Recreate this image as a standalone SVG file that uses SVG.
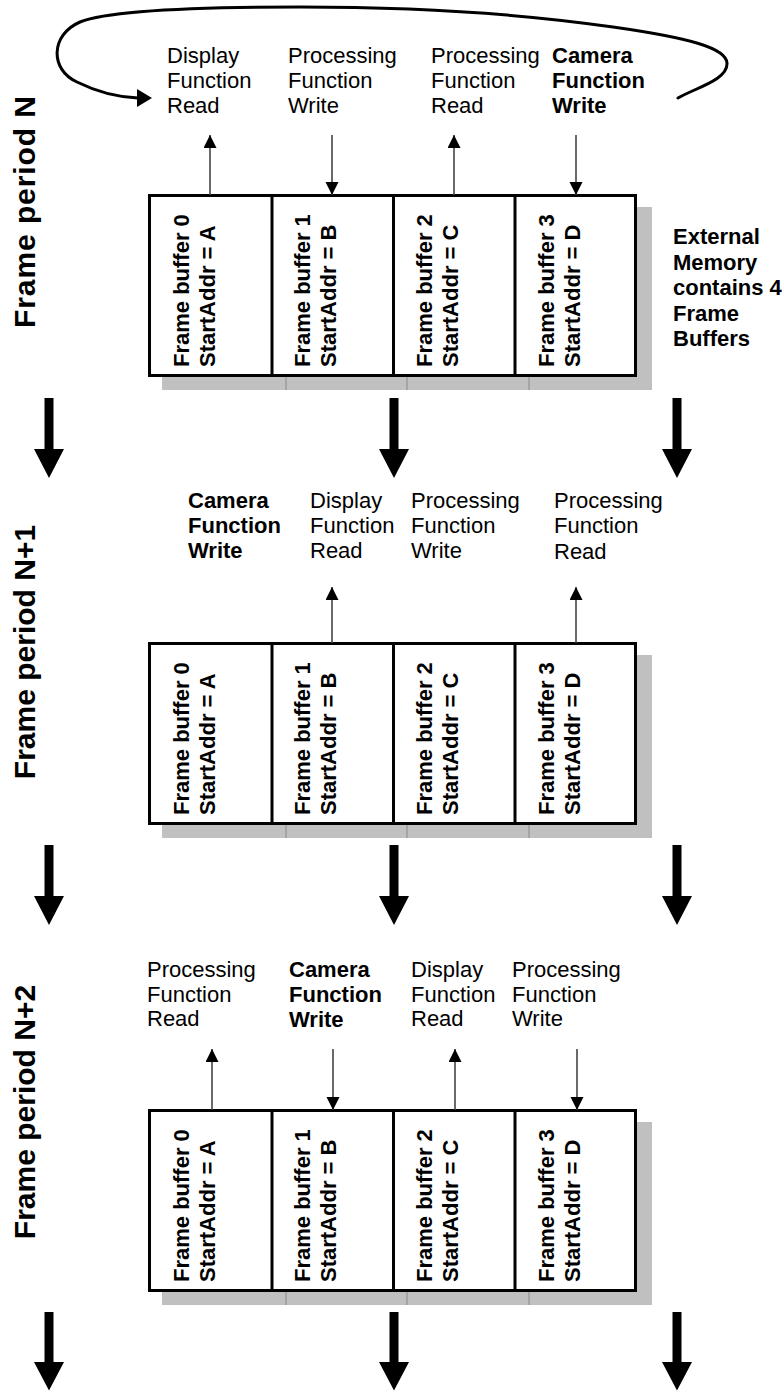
<svg xmlns="http://www.w3.org/2000/svg" width="782" height="1391" viewBox="0 0 782 1391">
<style>
.lbl{font-family:"Liberation Sans",Arial,sans-serif;font-size:22px;fill:#000}
.b{font-weight:bold}
.cell{font-family:"Liberation Sans",Arial,sans-serif;font-size:22px;font-weight:bold;fill:#000}
.period{font-family:"Liberation Sans",Arial,sans-serif;font-size:30px;font-weight:bold;fill:#000}
.box{fill:#fff;stroke:#000;stroke-width:3}
.div{stroke:#000;stroke-width:3}
.shadow{fill:#c0c0c0}
.sdiv{stroke:#a4a4a4;stroke-width:2}
.thin{stroke:#444;stroke-width:1.6;fill:none}
.big{fill:#000}
.curve{fill:none;stroke:#000;stroke-width:3;stroke-linecap:round}
</style>
<defs>
<marker id="ah" markerUnits="userSpaceOnUse" markerWidth="14" markerHeight="14" refX="13" refY="6.5" orient="auto">
<path d="M0,0 L13,6.5 L0,13 z" fill="#000"/>
</marker>
<g id="panel">
<rect class="shadow" x="162" y="13" width="490" height="183"/>
<line class="sdiv" x1="286" y1="183" x2="286" y2="196"/>
<line class="sdiv" x1="407" y1="183" x2="407" y2="196"/>
<line class="sdiv" x1="529" y1="183" x2="529" y2="196"/>
<rect class="box" x="149.5" y="1.5" width="486" height="180"/>
<line class="div" x1="272" y1="1.5" x2="272" y2="181.5"/>
<line class="div" x1="393.5" y1="1.5" x2="393.5" y2="181.5"/>
<line class="div" x1="515" y1="1.5" x2="515" y2="181.5"/>
<text class="cell" transform="translate(189,173) rotate(-90)">Frame buffer 0</text>
<text class="cell" transform="translate(215,173) rotate(-90)">StartAddr = A</text>
<text class="cell" transform="translate(310,173) rotate(-90)">Frame buffer 1</text>
<text class="cell" transform="translate(336,173) rotate(-90)">StartAddr = B</text>
<text class="cell" transform="translate(432,173) rotate(-90)">Frame buffer 2</text>
<text class="cell" transform="translate(458,173) rotate(-90)">StartAddr = C</text>
<text class="cell" transform="translate(554,173) rotate(-90)">Frame buffer 3</text>
<text class="cell" transform="translate(580,173) rotate(-90)">StartAddr = D</text>
</g>
<path id="bigArrow" d="M-4.5,0 H4.5 V51 H15 L0,80 L-15,51 H-4.5 Z"/>
</defs>

<g id="period-labels">
<text class="period" text-anchor="middle" textLength="232" lengthAdjust="spacing" transform="translate(35,212) rotate(-90)">Frame period N</text>
<text class="period" text-anchor="middle" transform="translate(35,652) rotate(-90)">Frame period N+1</text>
<text class="period" text-anchor="middle" transform="translate(35,1112) rotate(-90)">Frame period N+2</text>
</g>

<g id="panel-N"><use href="#panel" transform="translate(0,194)"/></g>
<g id="panel-N1"><use href="#panel" transform="translate(0,642)"/></g>
<g id="panel-N2"><use href="#panel" transform="translate(0,1109)"/></g>

<g id="external-memory">
<text class="lbl b" x="673" y="244">External</text>
<text class="lbl b" x="673" y="270">Memory</text>
<text class="lbl b" x="673" y="295">contains 4</text>
<text class="lbl b" x="673" y="321">Frame</text>
<text class="lbl b" x="673" y="346">Buffers</text>
</g>

<g id="labels-N">
<text class="lbl" x="167" y="63">Display</text>
<text class="lbl" x="167" y="88">Function</text>
<text class="lbl" x="167" y="113">Read</text>
<text class="lbl" x="288" y="63">Processing</text>
<text class="lbl" x="288" y="88">Function</text>
<text class="lbl" x="288" y="113">Write</text>
<text class="lbl" x="431" y="63">Processing</text>
<text class="lbl" x="431" y="88">Function</text>
<text class="lbl" x="431" y="113">Read</text>
<text class="lbl b" x="552" y="63">Camera</text>
<text class="lbl b" x="552" y="88">Function</text>
<text class="lbl b" x="552" y="113">Write</text>
</g>

<g id="labels-N1">
<text class="lbl b" x="188" y="508">Camera</text>
<text class="lbl b" x="188" y="533">Function</text>
<text class="lbl b" x="188" y="558">Write</text>
<text class="lbl" x="310" y="508">Display</text>
<text class="lbl" x="310" y="533">Function</text>
<text class="lbl" x="310" y="558">Read</text>
<text class="lbl" x="411" y="508">Processing</text>
<text class="lbl" x="411" y="533">Function</text>
<text class="lbl" x="411" y="558">Write</text>
<text class="lbl" x="554" y="508">Processing</text>
<text class="lbl" x="554" y="533">Function</text>
<text class="lbl" x="554" y="559">Read</text>
</g>

<g id="labels-N2">
<text class="lbl" x="147" y="977">Processing</text>
<text class="lbl" x="147" y="1002">Function</text>
<text class="lbl" x="147" y="1026">Read</text>
<text class="lbl b" x="289" y="977">Camera</text>
<text class="lbl b" x="289" y="1002">Function</text>
<text class="lbl b" x="289" y="1027">Write</text>
<text class="lbl" x="411" y="977">Display</text>
<text class="lbl" x="411" y="1002">Function</text>
<text class="lbl" x="411" y="1026">Read</text>
<text class="lbl" x="512" y="977">Processing</text>
<text class="lbl" x="512" y="1002">Function</text>
<text class="lbl" x="512" y="1026">Write</text>
</g>

<g id="connectors">
<path class="curve" d="M678,98 C695,88 728,80 727,63 C726,48 690,38 613,27 C530,15 420,7 300,7 C200,7 110,10 80,22 C50,35 50,70 77,82 C95,91 115,97 138,98"/>
<path d="M152,98 L137,89 L137,107 Z" fill="#000"/>

<line class="thin" x1="210" y1="195" x2="210" y2="135" marker-end="url(#ah)"/>
<line class="thin" x1="332" y1="135" x2="332" y2="195" marker-end="url(#ah)"/>
<line class="thin" x1="454" y1="195" x2="454" y2="135" marker-end="url(#ah)"/>
<line class="thin" x1="576" y1="135" x2="576" y2="195" marker-end="url(#ah)"/>

<line class="thin" x1="332" y1="643" x2="332" y2="587" marker-end="url(#ah)"/>
<line class="thin" x1="576" y1="643" x2="576" y2="587" marker-end="url(#ah)"/>

<line class="thin" x1="212" y1="1110" x2="212" y2="1049" marker-end="url(#ah)"/>
<line class="thin" x1="333" y1="1049" x2="333" y2="1110" marker-end="url(#ah)"/>
<line class="thin" x1="455" y1="1110" x2="455" y2="1049" marker-end="url(#ah)"/>
<line class="thin" x1="577" y1="1049" x2="577" y2="1110" marker-end="url(#ah)"/>

<use href="#bigArrow" class="big" transform="translate(49,398)"/>
<use href="#bigArrow" class="big" transform="translate(394,398)"/>
<use href="#bigArrow" class="big" transform="translate(677,398)"/>
<use href="#bigArrow" class="big" transform="translate(49,845)"/>
<use href="#bigArrow" class="big" transform="translate(394,845)"/>
<use href="#bigArrow" class="big" transform="translate(677,845)"/>
<use href="#bigArrow" class="big" transform="translate(49,1312) scale(1,0.98)"/>
<use href="#bigArrow" class="big" transform="translate(394,1312) scale(1,0.98)"/>
<use href="#bigArrow" class="big" transform="translate(677,1312) scale(1,0.98)"/>
</g>
</svg>
